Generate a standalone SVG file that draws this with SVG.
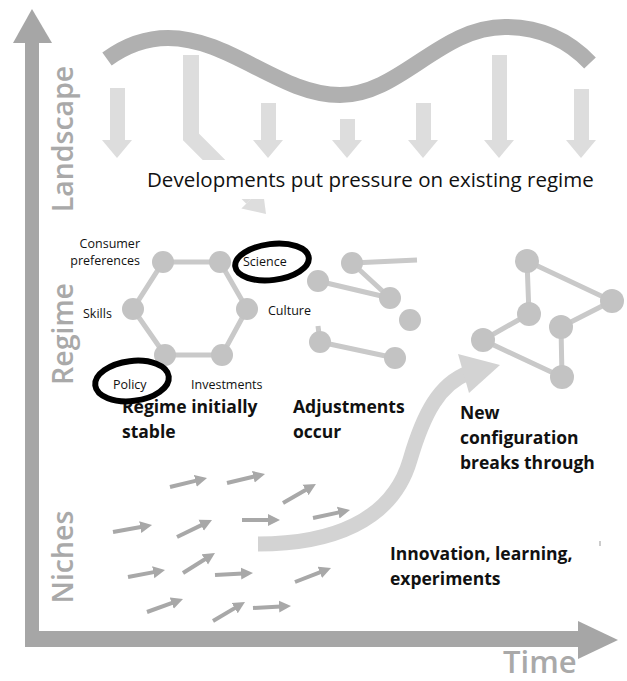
<svg xmlns="http://www.w3.org/2000/svg" width="627" height="681" viewBox="0 0 627 681">
<style>
.axis{fill:#a6a6a6}
.axlbl{font-family:"Open Sans","Liberation Sans",sans-serif;font-weight:600;fill:#a9a9a9}
.darr{fill:#dddddd}
.wave{fill:none;stroke:#b0b0b0;stroke-width:16}
.edge{stroke:#c9c9c9;stroke-width:5;fill:none}
.node{fill:#c3c3c3}
.small{font-family:"Open Sans","Liberation Sans",sans-serif;font-size:12.5px;fill:#111}
.bold{font-family:"Open Sans","Liberation Sans",sans-serif;font-size:17.5px;font-weight:700;fill:#111}
.ring{fill:#fff;stroke:#000;stroke-width:6}
.narr{stroke:#a8a8a8;stroke-width:4;fill:none;marker-end:url(#ah)}
</style>
<defs>
<marker id="ah" markerUnits="userSpaceOnUse" markerWidth="13" markerHeight="13" viewBox="0 -6.5 13 13" refX="2" refY="0" orient="auto"><path d="M0,-6 L12,0 L0,6 z" fill="#a8a8a8"/></marker>
</defs>
<rect width="627" height="681" fill="#fff"/>

<g id="axes">
<rect class="axis" x="25" y="42" width="14" height="605"/>
<polygon class="axis" points="13,43 52,43 32,9"/>
<rect class="axis" x="25" y="631" width="555" height="16"/>
<polygon class="axis" points="578,621 578,659 618,640"/>
<text class="axlbl" font-size="28.5" transform="translate(73,139) rotate(-90)" text-anchor="middle">Landscape</text>
<text class="axlbl" font-size="28.5" transform="translate(73,334) rotate(-90)" text-anchor="middle">Regime</text>
<text class="axlbl" font-size="28.5" transform="translate(73,557) rotate(-90)" text-anchor="middle">Niches</text>
<text class="axlbl" font-size="31" x="503" y="673">Time</text>
</g>

<g id="landscape">
<path class="wave" d="M107,59 C125,46 145,38 168,38 C230,38 280,95 340,95 C400,95 440,27 505,27 C545,27 572,44 590,63"/>
<polygon class="darr" points="110,88 125,88 125,140 132,140 117,158 102,140 110,140"/>
<path d="M191,55 L191,137 L252,198" fill="none" stroke="#dddddd" stroke-width="16" stroke-linejoin="miter"/>
<polygon class="darr" points="262.6,187.4 241.4,208.6 266,214"/>
<polygon class="darr" points="261,103 276,103 276,140 283,140 268,158 253,140 261,140"/>
<polygon class="darr" points="340,119 355,119 355,140 362,140 347,158 332,140 340,140"/>
<polygon class="darr" points="416,103 431,103 431,140 438,140 423,158 408,140 416,140"/>
<polygon class="darr" points="492,55 507,55 507,140 514,140 499,158 484,140 492,140"/>
<polygon class="darr" points="574,89 589,89 589,140 596,140 581,158 566,140 574,140"/>
<rect x="140" y="160" width="470" height="39" fill="#fff"/>
<text x="147" y="187" font-family="Open Sans, Liberation Sans, sans-serif" font-size="20.5" fill="#111">Developments put pressure on existing regime</text>
</g>

<g id="regime-hexagon">
<polygon class="edge" points="163,262 220,262 247,309 222,355 165,355 133,309"/>
<circle class="node" cx="163" cy="262" r="11"/>
<circle class="node" cx="220" cy="262" r="11"/>
<circle class="node" cx="247" cy="309" r="11"/>
<circle class="node" cx="222" cy="355" r="11"/>
<circle class="node" cx="165" cy="355" r="11"/>
<circle class="node" cx="133" cy="309" r="11"/>
</g>

<g id="adjusting-network">
<path class="edge" d="M352,263 L417,260 M352,263 L390,298 M318,281 L390,298 M320,342 L395,358 M320,342 L318,326"/>
<circle class="node" cx="352" cy="263" r="11"/>
<circle class="node" cx="318" cy="281" r="11"/>
<circle class="node" cx="390" cy="298" r="11"/>
<circle class="node" cx="410" cy="320" r="11"/>
<circle class="node" cx="320" cy="342" r="11"/>
<circle class="node" cx="395" cy="358" r="11"/>
</g>

<g id="new-network">
<polygon class="edge" points="527,261 612,301 561,327 562,377 483,340 529,314"/>
<circle class="node" cx="527" cy="261" r="12"/>
<circle class="node" cx="612" cy="301" r="12"/>
<circle class="node" cx="529" cy="314" r="12"/>
<circle class="node" cx="483" cy="340" r="12"/>
<circle class="node" cx="561" cy="327" r="12"/>
<circle class="node" cx="562" cy="377" r="12"/>
</g>

<g id="breakthrough-arrow">
<path d="M258,544 C330,544 392,522 410,460 C424,412 440,384 468,373" fill="none" stroke="#d3d3d3" stroke-width="15"/>
<polygon points="458,354 500,365 469,393" fill="#d3d3d3"/>
</g>

<g id="niche-arrows">
<line class="narr" x1="170" y1="487" x2="197.3" y2="480.4"/>
<line class="narr" x1="227" y1="483" x2="255.3" y2="476.3"/>
<line class="narr" x1="283" y1="503" x2="307.3" y2="489"/>
<line class="narr" x1="113" y1="532" x2="142.2" y2="526.8"/>
<line class="narr" x1="177" y1="537" x2="203" y2="524.4"/>
<line class="narr" x1="242" y1="520" x2="270" y2="520"/>
<line class="narr" x1="313" y1="518" x2="340.2" y2="512.1"/>
<line class="narr" x1="128" y1="577" x2="155.2" y2="571.9"/>
<line class="narr" x1="183" y1="573" x2="206.5" y2="558.3"/>
<line class="narr" x1="215" y1="575" x2="243" y2="573.5"/>
<line class="narr" x1="295" y1="582" x2="321.7" y2="571.6"/>
<line class="narr" x1="147" y1="612" x2="173.6" y2="602.4"/>
<line class="narr" x1="213" y1="621" x2="236.4" y2="607.1"/>
<line class="narr" x1="253" y1="608" x2="281" y2="606.5"/>
<line x1="600" y1="541" x2="600" y2="546" stroke="#999" stroke-width="1"/>
</g>

<g id="stage-labels">
<text class="bold" x="122" y="413">Regime initially</text>
<text class="bold" x="122" y="438">stable</text>
<text class="bold" x="293" y="413">Adjustments</text>
<text class="bold" x="293" y="438">occur</text>
<text class="bold" x="460" y="419">New</text>
<text class="bold" x="460" y="444">configuration</text>
<text class="bold" x="460" y="469">breaks through</text>
<text class="bold" x="390" y="560">Innovation, learning,</text>
<text class="bold" x="390" y="585">experiments</text>
</g>

<g id="highlight-science">
<ellipse class="ring" cx="272" cy="262" rx="37" ry="18" transform="rotate(-7 272 262)"/>
<text class="small" x="243" y="266">Science</text>
</g>
<g id="highlight-policy">
<ellipse class="ring" cx="132" cy="381" rx="37" ry="20" transform="rotate(-7 132 381)"/>
<text class="small" x="113" y="389">Policy</text>
</g>
<g id="regime-labels">
<text class="small" x="140" y="248" text-anchor="end">Consumer</text>
<text class="small" x="140" y="265" text-anchor="end">preferences</text>
<text class="small" x="83" y="318">Skills</text>
<text class="small" x="268" y="315">Culture</text>
<text class="small" x="191" y="389">Investments</text>
</g>
</svg>
